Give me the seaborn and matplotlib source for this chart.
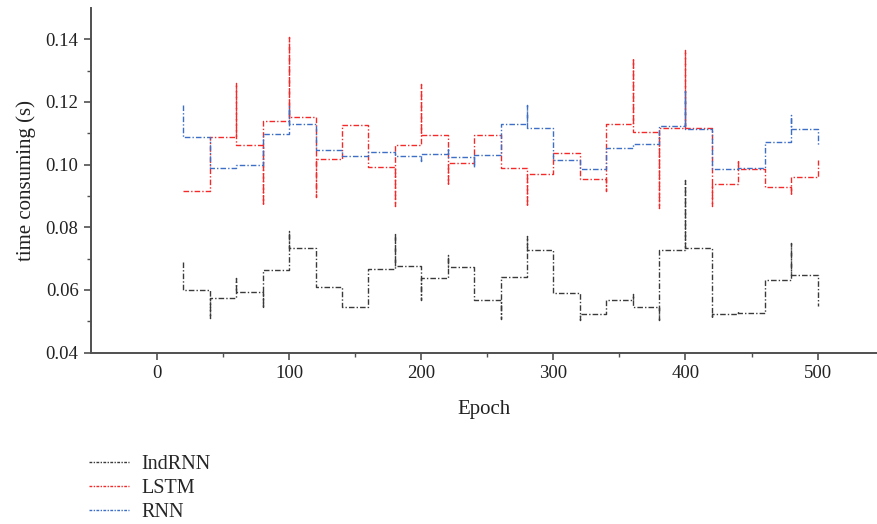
import numpy as np
import pandas as pd
import matplotlib
matplotlib.use("Agg")
import matplotlib.pyplot as plt
import seaborn as sns

# Epoch boundaries where each timing block starts/ends
epochs = [20, 40, 60, 80, 100, 120, 140, 160, 180, 200, 220, 240, 260,
          280, 300, 320, 340, 360, 380, 400, 420, 440, 460, 480, 500]

# Time per block (plateau between consecutive boundaries)
indrnn_level = [0.0600, 0.0575, 0.0593, 0.0665, 0.0734, 0.0609, 0.0546, 0.0668,
                0.0677, 0.0639, 0.0672, 0.0569, 0.0640, 0.0727, 0.0591, 0.0522,
                0.0567, 0.0546, 0.0727, 0.0733, 0.0522, 0.0525, 0.0633, 0.0648]
lstm_level = [0.0916, 0.1088, 0.1064, 0.1138, 0.1152, 0.1017, 0.1127, 0.0992,
              0.1062, 0.1095, 0.1005, 0.1095, 0.0990, 0.0971, 0.1036, 0.0953,
              0.1130, 0.1104, 0.1117, 0.1117, 0.0939, 0.0987, 0.0930, 0.0961]
rnn_level = [0.1087, 0.0988, 0.0999, 0.1097, 0.1130, 0.1047, 0.1028, 0.1041,
             0.1028, 0.1033, 0.1024, 0.1031, 0.1130, 0.1117, 0.1015, 0.0985,
             0.1052, 0.1067, 0.1123, 0.1113, 0.0987, 0.0988, 0.1072, 0.1112]

# Instantaneous time measured at each boundary epoch
indrnn_peak = [0.0688, 0.0512, 0.0638, 0.0544, 0.0789, 0.0609, 0.0546, 0.0668,
               0.0782, 0.0568, 0.0711, 0.0569, 0.0507, 0.0773, 0.0591, 0.0505,
               0.0567, 0.0587, 0.0505, 0.0950, 0.0512, 0.0532, 0.0633, 0.0749,
               0.0548]
lstm_peak = [0.0916, 0.1088, 0.1259, 0.0870, 0.1406, 0.0898, 0.1127, 0.0992,
             0.0867, 0.1256, 0.0935, 0.1095, 0.0990, 0.0867, 0.1036, 0.0953,
             0.0916, 0.1340, 0.0861, 0.1367, 0.0867, 0.1014, 0.0930, 0.0902,
             0.1014]
rnn_peak = [0.1189, 0.0988, 0.0999, 0.1097, 0.1187, 0.1047, 0.1028, 0.1041,
            0.1028, 0.1011, 0.1054, 0.0993, 0.1130, 0.1189, 0.1015, 0.0985,
            0.1052, 0.1067, 0.1123, 0.1234, 0.0987, 0.0988, 0.1072, 0.1157,
            0.1062]

models = ["IndRNN", "LSTM", "RNN"]
colors = ["#3a3a3a", "#f42a2a", "#3d6fc6"]


def step_path(name, levels, peaks):
    rows = []
    for i, x in enumerate(epochs):
        if i > 0:
            rows.append((name, x, levels[i - 1]))
        rows.append((name, x, peaks[i]))
        if i < len(levels):
            rows.append((name, x, levels[i]))
    return rows


records = (step_path("IndRNN", indrnn_level, indrnn_peak)
           + step_path("LSTM", lstm_level, lstm_peak)
           + step_path("RNN", rnn_level, rnn_peak))
df = pd.DataFrame(records, columns=["model", "epoch", "time"])

sns.set_theme(style="ticks")
plt.rcParams["font.family"] = ["Liberation Serif", "DejaVu Serif"]
plt.rcParams["axes.edgecolor"] = "#505050"

fig = plt.figure(figsize=(8.77, 5.24), dpi=100)
ax = fig.add_axes([0.1038, 0.327, 0.8962, 0.658])

sns.lineplot(data=df, x="epoch", y="time", hue="model", hue_order=models,
             palette=colors, sort=False, estimator=None, ax=ax,
             linewidth=1.0, legend=False)
for line in ax.get_lines():
    line.set_linestyle((0, (4, 1.5, 1, 1.5)))

ax.set_xlim(-50, 545)
ax.set_ylim(0.04, 0.15)
ax.set_xticks([0, 100, 200, 300, 400, 500])
ax.set_xticks([50, 150, 250, 350, 450], minor=True)
ax.set_yticks([0.04, 0.06, 0.08, 0.10, 0.12, 0.14])
ax.set_yticks([0.05, 0.07, 0.09, 0.11, 0.13], minor=True)
ax.yaxis.set_major_formatter(matplotlib.ticker.FormatStrFormatter("%.2f"))

for side in ("top", "right"):
    ax.spines[side].set_visible(False)
for side in ("left", "bottom"):
    ax.spines[side].set_linewidth(1.4)

ax.tick_params(axis="both", which="major", direction="out", length=5, width=1.2,
               colors="#505050", labelcolor="#222222", labelsize=13.5, pad=4)
ax.tick_params(axis="both", which="minor", direction="out", length=3, width=1.0,
               colors="#505050")

ax.set_xlabel("Epoch", fontsize=15, color="#222222", labelpad=13)
ax.set_ylabel("time consuming (s)", fontsize=15, color="#222222", labelpad=7)

handles = [matplotlib.lines.Line2D([], [], color=c, linewidth=1.0,
                                   linestyle=(0, (2, 1, 1, 1)))
           for c in colors]
fig.legend(handles, models, loc="upper left", bbox_to_anchor=(0.092, 0.148),
           frameon=False, fontsize=14.5, handlelength=2.0, handletextpad=0.6,
           labelspacing=0.25, borderaxespad=0)

fig.savefig("out.png", dpi=100)
